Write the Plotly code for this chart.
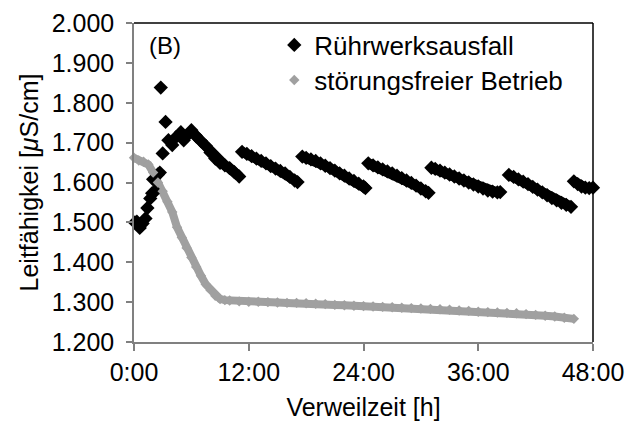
import plotly.graph_objects as go

# ---------------- data ----------------
x_tick_vals = [0, 12, 24, 36, 48]
x_tick_text = ["0:00", "12:00", "24:00", "36:00", "48:00"]

# Rührwerksausfall: scattered start-up points (hours, conductivity)
ruehr_start_t = [0.1, 0.3, 0.6, 0.9, 1.2, 1.4, 1.7, 1.9, 2.2, 2.0, 2.5, 2.7, 3.0, 2.8, 3.3,
                 3.6, 4.0, 4.4, 4.9, 5.2, 5.6, 6.0, 6.4]
ruehr_start_v = [1.500, 1.502, 1.486, 1.497, 1.510, 1.536, 1.560, 1.573, 1.578, 1.608, 1.620,
                 1.625, 1.673, 1.838, 1.752,
                 1.706, 1.694, 1.714, 1.726, 1.706, 1.719, 1.731, 1.719]

# Rührwerksausfall: saw-tooth segments (None separates segments)
ruehr_t = [6.5, 7.0, 7.5, 8.0, 8.5, 9.0, 9.5, 10.0, 10.5, 11.0, None,
           11.3, 11.8, 12.3, 12.8, 13.3, 13.8, 14.3, 14.8, 15.3, 15.8, 16.3, 16.8, 17.1, None,
           17.6, 18.0, 18.5, 19.0, 19.5, 20.0, 20.5, 21.0, 21.5, 22.0, 22.5, 23.0, 23.5, 24.0, 24.2, None,
           24.5, 25.0, 25.5, 26.0, 26.5, 27.0, 27.5, 28.0, 28.5, 29.0, 29.5, 30.0, 30.5, 30.8, None,
           31.1, 31.5, 32.0, 32.5, 33.0, 33.5, 34.0, 34.5, 35.0, 35.5, 36.0, 36.5, 37.0, 37.5, 38.0, 38.3, None,
           39.2, 39.7, 40.2, 40.7, 41.2, 41.7, 42.2, 42.7, 43.2, 43.7, 44.2, 44.7, 45.2, 45.7, None,
           46.0, 46.4, 46.8, 47.2, 47.6, 48.0]
ruehr_v = [1.716, 1.704, 1.692, 1.675, 1.660, 1.649, 1.643, 1.636, 1.626, 1.615, None,
           1.677, 1.672, 1.666, 1.660, 1.654, 1.648, 1.641, 1.635, 1.629, 1.623, 1.614, 1.605, 1.601, None,
           1.665, 1.662, 1.658, 1.654, 1.648, 1.642, 1.636, 1.630, 1.623, 1.617, 1.610, 1.604, 1.597, 1.590, 1.586, None,
           1.648, 1.643, 1.638, 1.633, 1.628, 1.623, 1.617, 1.611, 1.605, 1.599, 1.592, 1.585, 1.578, 1.574, None,
           1.637, 1.634, 1.630, 1.625, 1.620, 1.615, 1.610, 1.605, 1.600, 1.595, 1.590, 1.585, 1.580, 1.577, 1.575, 1.576, None,
           1.619, 1.614, 1.608, 1.602, 1.596, 1.589, 1.582, 1.575, 1.568, 1.561, 1.555, 1.549, 1.544, 1.539, None,
           1.603, 1.596, 1.590, 1.587, 1.586, 1.587]

# störungsfreier Betrieb
normal_t = [0.0, 0.5, 1.0, 1.5, 2.0, 2.5, 3.0, 3.5, 4.0, 4.5, 5.0, 5.5, 6.0, 6.5, 7.0, 7.5,
            8.0, 8.5, 9.0, 9.5, 10.0, 11, 12, 13, 14, 15, 16, 17, 18, 19, 20, 21, 22, 23, 24,
            25, 26, 27, 28, 29, 30, 31, 32, 33, 34, 35, 36, 37, 38, 39, 40, 41, 42, 43, 44, 45, 46]
normal_v = [1.662, 1.655, 1.652, 1.645, 1.625, 1.600, 1.578, 1.552, 1.526, 1.488, 1.462, 1.436,
            1.412, 1.388, 1.366, 1.345, 1.330, 1.316, 1.308, 1.305, 1.304, 1.302, 1.301, 1.301,
            1.300, 1.299, 1.298, 1.298, 1.297, 1.296, 1.295, 1.293, 1.292, 1.291, 1.290, 1.289,
            1.288, 1.287, 1.286, 1.285, 1.284, 1.283, 1.282, 1.281, 1.279, 1.278, 1.276, 1.275,
            1.274, 1.273, 1.272, 1.270, 1.268, 1.266, 1.264, 1.261, 1.258]

series_names = ["Rührwerksausfall", "störungsfreier Betrieb"]
BLACK = "#000000"
GRAY = "#A0A0A0"
FONT = "Arial, Liberation Sans, sans-serif"

fig = go.Figure()

# continuous bands (lines) underneath markers
fig.add_trace(go.Scatter(x=normal_t, y=normal_v, mode="lines", line=dict(color=GRAY, width=8),
                         showlegend=False, hoverinfo="skip", cliponaxis=False))
fig.add_trace(go.Scatter(x=ruehr_t, y=ruehr_v, mode="lines", line=dict(color=BLACK, width=10),
                         connectgaps=False, showlegend=False, hoverinfo="skip", cliponaxis=False))

# marker traces (each in its own legend box)
fig.add_trace(go.Scatter(x=ruehr_start_t + [t for t in ruehr_t if t is not None],
                         y=ruehr_start_v + [v for v in ruehr_v if v is not None],
                         mode="markers", name=series_names[0], legend="legend",
                         marker=dict(symbol="diamond", size=11, color=BLACK), cliponaxis=False))
fig.add_trace(go.Scatter(x=normal_t, y=normal_v, mode="markers", name=series_names[1],
                         legend="legend2",
                         marker=dict(symbol="diamond", size=8, color=GRAY), cliponaxis=False))

# top & right frame
fig.add_shape(type="line", xref="paper", yref="paper", x0=0, x1=1, y0=1, y1=1,
              line=dict(color="black", width=1.5))
fig.add_shape(type="line", xref="paper", yref="paper", x0=1, x1=1, y0=0, y1=1,
              line=dict(color="black", width=1.5))

fig.add_annotation(text="(B)", xref="paper", yref="paper", x=0.028, y=0.931,
                   xanchor="left", yanchor="middle",
                   showarrow=False, font=dict(size=24, color="black", family=FONT))

legend_style = dict(xanchor="left", yanchor="middle", bgcolor="rgba(0,0,0,0)",
                    font=dict(size=26), itemwidth=30)

# the page body has an 8px margin; margins below compensate so the plot
# area lands at the reference position in the 635x423 window
fig.update_layout(
    width=635, height=423,
    margin=dict(l=126, r=50, t=15, b=89),
    paper_bgcolor="white", plot_bgcolor="white",
    font=dict(family=FONT, size=25, color="black"),
    showlegend=True,
    legend=dict(x=0.3056, y=0.931, **legend_style),
    legend2=dict(x=0.3056, y=0.821, **legend_style),
    xaxis=dict(range=[0, 48], tickvals=x_tick_vals, ticktext=x_tick_text,
               ticks="outside", ticklen=7, tickcolor="#808080", tickwidth=1.5,
               showline=True, linecolor="#808080", linewidth=1.5,
               showgrid=False, zeroline=False, ticklabelstandoff=0, automargin=False,
               tickfont=dict(size=25),
               title=dict(text="Verweilzeit [h]", font=dict(size=25), standoff=14)),
    yaxis=dict(range=[1.2, 2.0], dtick=0.1, tick0=1.2, tickformat=".3f",
               ticks="outside", ticklen=6, tickcolor="#808080", tickwidth=1.5,
               showline=True, linecolor="#808080", linewidth=1.5,
               showgrid=False, zeroline=False, ticklabelstandoff=7, automargin=False,
               tickfont=dict(size=25),
               title=dict(text="Leitfähigkei [<i>μ</i>S/cm]", font=dict(size=25), standoff=6)),
)

fig.write_html("out.html")
